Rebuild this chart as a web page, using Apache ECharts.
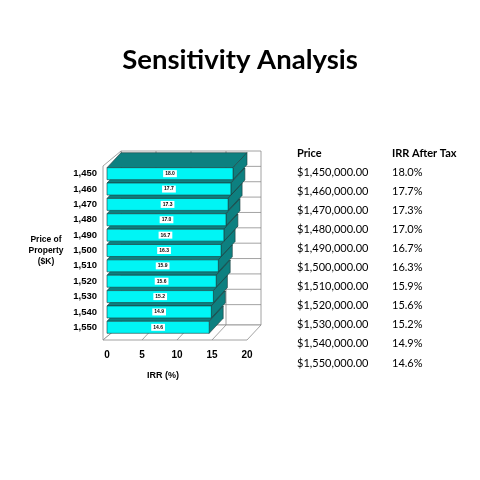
<!DOCTYPE html>
<html>
<head>
<meta charset="utf-8">
<title>Sensitivity Analysis</title>
<script src="https://cdn.jsdelivr.net/npm/echarts@6/dist/echarts.min.js"></script>
<style>
  html, body { margin: 0; padding: 0; background: #fff; }
  #main { width: 480px; height: 480px; }
</style>
</head>
<body>
<div id="main"></div>
<script>
// price of property ($K), top to bottom
var categories = ['1,450', '1,460', '1,470', '1,480', '1,490', '1,500', '1,510', '1,520', '1,530', '1,540', '1,550'];
// IRR after tax (%)
var irrValues = [18.0, 17.7, 17.3, 17.0, 16.7, 16.3, 15.9, 15.6, 15.2, 14.9, 14.6];
// table on the right
var priceLabels = ['$1,450,000.00', '$1,460,000.00', '$1,470,000.00', '$1,480,000.00', '$1,490,000.00', '$1,500,000.00',
  '$1,510,000.00', '$1,520,000.00', '$1,530,000.00', '$1,540,000.00', '$1,550,000.00'];
var irrLabels = ['18.0%', '17.7%', '17.3%', '17.0%', '16.7%', '16.3%', '15.9%', '15.6%', '15.2%', '14.9%', '14.6%'];
var tableHeaders = ['Price', 'IRR After Tax'];
var xMax = 20;
var xStep = 5;

var DX = 14, DY = -15;   // 3d depth offset
var GRID_LINE = '#8c8c8c';
var AXIS_FONT = '"Liberation Sans", Arial, sans-serif';

var myChart = echarts.init(document.getElementById('main'));

// walls + floor of the 3d box, drawn behind the bars
function renderFrame(params, api) {
  var band = api.size([0, 1])[1];
  var xa = api.coord([0, 0])[0];
  var xb = api.coord([xMax, 0])[0];
  var top = api.coord([0, 0])[1] - band / 2;
  var bot = api.coord([0, categories.length - 1])[1] + band / 2 + 5;
  var ln = { stroke: GRID_LINE, lineWidth: 0.8, fill: '#fff' };
  var kids = [];
  // back wall
  kids.push({ type: 'rect', shape: { x: xa + DX, y: top + DY, width: xb - xa, height: bot - top }, style: ln });
  // left wall
  kids.push({ type: 'polygon', shape: { points: [[xa - 4, top], [xa + DX, top + DY], [xa + DX, bot + DY], [xa - 4, bot]] }, style: ln });
  // floor
  kids.push({ type: 'polygon', shape: { points: [[xa - 4, bot], [xb, bot], [xb + DX, bot + DY], [xa + DX, bot + DY]] }, style: ln });
  // gridlines
  for (var v = xStep; v < xMax; v += xStep) {
    var x = api.coord([v, 0])[0];
    kids.push({ type: 'line', shape: { x1: x + DX, y1: top + DY, x2: x + DX, y2: bot + DY }, style: { stroke: GRID_LINE, lineWidth: 0.8 } });
    kids.push({ type: 'line', shape: { x1: x, y1: bot, x2: x + DX, y2: bot + DY }, style: { stroke: GRID_LINE, lineWidth: 0.8 } });
  }
  for (var i = 1; i < categories.length; i++) {
    var y = api.coord([0, i])[1] - band / 2 + DY;
    kids.push({ type: 'line', shape: { x1: xa + DX, y1: y, x2: xb + DX, y2: y }, style: { stroke: GRID_LINE, lineWidth: 0.8 } });
  }
  return { type: 'group', children: kids };
}

// one 3d bar: front face, top face, side face and value tag
function renderBar(params, api) {
  var c = api.value(0), v = api.value(1);
  var p0 = api.coord([0, c]), p1 = api.coord([v, c]);
  var h = api.size([0, 1])[1] * 0.78;
  var y = p0[1] - h / 2, x0 = p0[0], x1 = p1[0];
  var edge = { stroke: '#1d3b3b', lineWidth: 0.6 };
  return {
    type: 'group',
    children: [
      { type: 'polygon', shape: { points: [[x0, y], [x0 + DX, y + DY], [x1 + DX, y + DY], [x1, y]] },
        style: { fill: '#0d8080', stroke: edge.stroke, lineWidth: edge.lineWidth } },
      { type: 'polygon', shape: { points: [[x1, y], [x1 + DX, y + DY], [x1 + DX, y + h + DY], [x1, y + h]] },
        style: { fill: '#0d8080', stroke: edge.stroke, lineWidth: edge.lineWidth } },
      { type: 'rect', shape: { x: x0, y: y, width: x1 - x0, height: h },
        style: { fill: '#00f5f5', stroke: edge.stroke, lineWidth: edge.lineWidth } },
      { type: 'text', x: (x0 + x1) / 2, y: p0[1],
        style: { text: v.toFixed(1), font: 'bold 5px "Liberation Sans"', fill: '#000', align: 'center', verticalAlign: 'middle',
          backgroundColor: '#fff', padding: [1, 2] } }
    ]
  };
}

var barData = irrValues.map(function (v, i) { return [i, v]; }).reverse();

// table text built from the arrays
var tableGraphic = [];
var colX = [297, 392];
tableHeaders.forEach(function (t, k) {
  tableGraphic.push({ type: 'text', x: colX[k], y: 153,
    style: { text: t, font: 'bold 11px Lato', fill: '#000', verticalAlign: 'middle' } });
});
for (var r = 0; r < priceLabels.length; r++) {
  tableGraphic.push({ type: 'text', x: colX[0], y: 172.5 + r * 19.05,
    style: { text: priceLabels[r], font: '11px Lato', fill: '#000', verticalAlign: 'middle' } });
  tableGraphic.push({ type: 'text', x: colX[1], y: 172.5 + r * 19.05,
    style: { text: irrLabels[r], font: '11px Lato', fill: '#000', verticalAlign: 'middle' } });
}

var option = {
  animation: false,
  backgroundColor: '#fff',
  title: {
    text: 'Sensitivity Analysis',
    left: 'center',
    top: 41,
    textStyle: { fontFamily: 'Lato', fontWeight: 'bold', fontSize: 27.5, color: '#000' }
  },
  grid: { left: 107, right: 480 - 247, top: 166, height: 169 },
  xAxis: {
    type: 'value',
    min: 0, max: xMax, interval: xStep,
    name: 'IRR (%)',
    nameLocation: 'middle',
    nameGap: 36,
    nameTextStyle: { fontFamily: AXIS_FONT, fontWeight: 'bold', fontSize: 9, color: '#000', padding: [0, 28, 0, 0] },
    axisLine: { show: false },
    axisTick: { show: false },
    splitLine: { show: false },
    axisLabel: { margin: 15, fontFamily: AXIS_FONT, fontWeight: 'bold', fontSize: 10, color: '#000' }
  },
  yAxis: {
    type: 'category',
    data: categories,
    inverse: true,
    name: 'Price of\nProperty\n($K)',
    nameLocation: 'middle',
    nameRotate: 0,
    nameGap: 61,
    nameTextStyle: { fontFamily: AXIS_FONT, fontWeight: 'bold', fontSize: 8.5, color: '#000', align: 'center', lineHeight: 11 },
    axisLine: { show: false },
    axisTick: { show: false },
    axisLabel: { margin: 10, fontFamily: AXIS_FONT, fontWeight: 'bold', fontSize: 9.5, color: '#000' }
  },
  graphic: tableGraphic,
  series: [
    { type: 'custom', renderItem: renderFrame, data: [[0, 0]], encode: { x: 1, y: 0 }, z: 1, silent: true },
    { type: 'custom', renderItem: renderBar, data: barData, encode: { x: 1, y: 0 }, z: 2 }
  ]
};

myChart.setOption(option);
</script>
</body>
</html>
